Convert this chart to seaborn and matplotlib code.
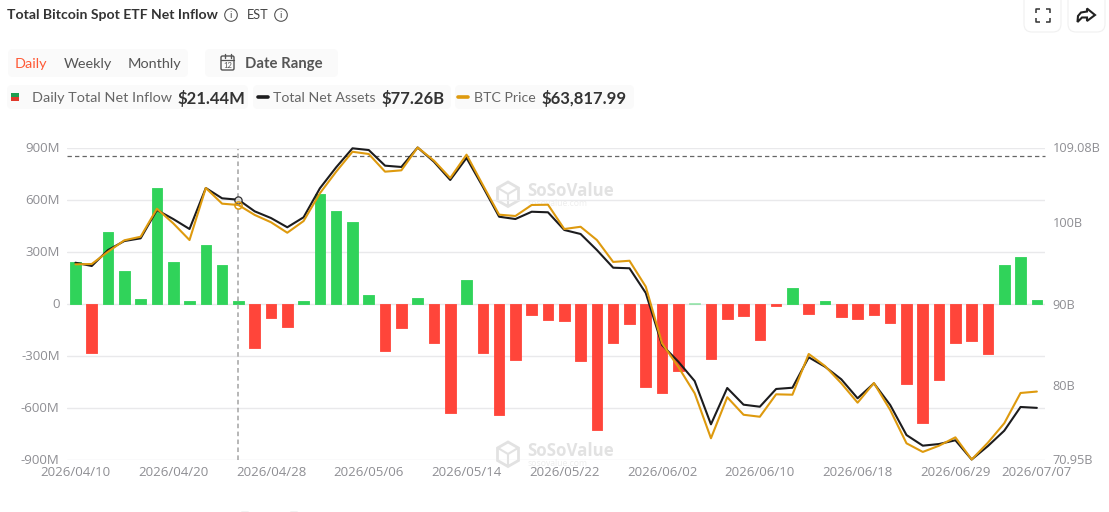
import numpy as np
import pandas as pd
import matplotlib
matplotlib.use("Agg")
import matplotlib.pyplot as plt
from matplotlib.patches import FancyBboxPatch, Polygon, Circle, Rectangle
import seaborn as sns

net_inflow_m = [241, -285, 412, 187, 28, 665, 239, 14, 337, 224, 16, -257, -86, -134, 16, 632, 534, 470, 49, -274,
                -143, 30, -230, -632, 133, -287, -645, -328, -66, -97, -103, -329, -728, -226, -120, -480, -514, -392, 5, -323,
                -88, -72, -210, -14, 88, -59, 12, -78, -88, -65, -111, -464, -692, -440, -226, -219, -290, 222, 268, 21.44]
net_assets_b = [95.00, 94.60, 96.55, 97.65, 97.98, 101.44, 100.34, 99.12, 104.13, 102.87, 102.70, 101.28, 100.46, 99.33, 100.55,
                104.09, 106.66, 108.98, 108.77, 106.86, 106.70, 109.08, 107.34, 105.11, 107.80, 104.29, 100.62, 100.34, 101.23, 101.16,
                99.00, 98.51, 96.55, 94.39, 94.32, 91.30, 84.94, 82.90, 80.54, 75.25, 79.69, 77.65, 77.40, 79.57, 79.72,
                83.44, 82.29, 80.75, 78.43, 80.26, 77.61, 73.94, 72.64, 72.84, 73.30, 70.95, 72.60, 74.47, 77.37, 77.26]
btc_price = [73400, 73425, 74350, 75210, 75480, 77590, 76490, 75230, 79150, 77970, 77870, 77120, 76570, 75780, 76660,
             78750, 80380, 81880, 81710, 80380, 80480, 82200, 81210, 79900, 81660, 79380, 77140, 77040, 77870, 77890,
             76060, 76230, 75230, 73580, 73670, 71720, 67450, 65670, 63690, 60300, 63390, 62070, 61920, 63610, 63580,
             66650, 65740, 64440, 62980, 64460, 62430, 59920, 59270, 59740, 60370, 58700, 59970, 61430, 63710, 63817.99]
tick_days = [0, 6, 12, 18, 24, 30, 36, 42, 48, 54, 59]
tick_dates = ["2026/04/10", "2026/04/20", "2026/04/28", "2026/05/06", "2026/05/14", "2026/05/22",
              "2026/06/02", "2026/06/10", "2026/06/18", "2026/06/29", "2026/07/07"]
inflow_ticks = [-900, -600, -300, 0, 300, 600, 900]
inflow_labels = ["-900M", "-600M", "-300M", "0", "300M", "600M", "900M"]
assets_ticks = [70.95, 80, 90, 100, 109.08]
assets_labels = ["70.95B", "80B", "90B", "100B", "109.08B"]
reference_assets = 107.99
hover_day = 10

W, H = 1109, 512
GREEN, RED, BLACK, ORANGE = "#30D35A", "#FF453A", "#1C1C1E", "#DE9A0E"
GRAY = "#8E8E93"
UI = "Lato"
AX = "Open Sans"

sns.set_theme(style="white")
plt.rcParams["font.family"] = [UI, "DejaVu Sans"]
fig = plt.figure(figsize=(W / 100, H / 100), dpi=100, facecolor="white")

# pixel-space canvas for page furniture
bg = fig.add_axes([0, 0, 1, 1], zorder=-1)
bg.set_xlim(0, W); bg.set_ylim(H, 0); bg.axis("off")

L, R, T, B = 67.3, 1045, 147.5, 459.5
rect = [L / W, 1 - B / H, (R - L) / W, (B - T) / H]
ax = fig.add_axes(rect, zorder=1)
ax.patch.set_alpha(0)

days = np.arange(len(net_inflow_m))
df = pd.DataFrame({"day": days, "inflow": net_inflow_m, "assets": net_assets_b, "btc": btc_price})
df["sign"] = np.where(df["inflow"] >= 0, "in", "out")

ax.set_axisbelow(True)
sns.barplot(data=df, x="day", y="inflow", hue="sign", palette={"in": GREEN, "out": RED}, saturation=1,
            dodge=False, native_scale=True, width=0.65, legend=False, ax=ax, zorder=2)
for p in ax.patches:
    p.set_edgecolor(p.get_facecolor())
    p.set_linewidth(0.6)
    p.set_joinstyle("round")
    if 0 < p.get_height() < 8:
        p.set_alpha(0.35)

ax.set_xlim(-0.5, 59.5)
ax.set_ylim(-900, 900)
ax.set_xticks(tick_days, tick_dates, fontfamily=AX, fontsize=9.5, color=GRAY)
ax.set_yticks(inflow_ticks, inflow_labels, fontfamily=AX, fontsize=9.5, color=GRAY)
ax.tick_params(axis="y", length=0, pad=5.5)
ax.tick_params(axis="x", length=0, pad=5)
ax.grid(axis="y", color="#E9E9EB", lw=1.0)
ax.grid(axis="x", visible=False)
ax.set_xlabel(""); ax.set_ylabel("")
sns.despine(ax=ax, left=True, bottom=True)

ax2 = ax.twinx()
ax2.set_zorder(2); ax2.patch.set_alpha(0)
sns.lineplot(data=df, x="day", y="assets", color=BLACK, lw=1.5, ax=ax2, legend=False, errorbar=None)
ax2.set_ylim(min(net_assets_b), max(net_assets_b))
ax2.set_yticks(assets_ticks, assets_labels, fontfamily=AX, fontsize=9.2, color=GRAY)
ax2.tick_params(axis="y", length=0, pad=5.5)
ax2.set_ylabel(""); ax2.set_xlabel("")
ax2.grid(False)
sns.despine(ax=ax2, left=True, bottom=True, right=True)
ax2.axhline(reference_assets, color="#666666", lw=0.9, ls=(0, (3.5, 2.5)), zorder=1)
ax2.axvline(hover_day, ymax=0.995, color="#A3A3A3", lw=1.1, ls=(0, (3, 2.2)), zorder=1)
ax2.plot([hover_day], [net_assets_b[hover_day]], "o", ms=5.2, mfc="#E8E8E8", mec=BLACK, mew=0.9, zorder=4, alpha=0.9)

ax3 = ax.twinx()
ax3.set_zorder(3); ax3.patch.set_alpha(0)
sns.lineplot(data=df, x="day", y="btc", color=ORANGE, lw=1.5, ax=ax3, legend=False, errorbar=None)
ax3.set_ylim(min(btc_price), max(btc_price))
ax3.set_yticks([]); ax3.set_ylabel(""); ax3.set_xlabel(""); ax3.grid(False)
sns.despine(ax=ax3, left=True, bottom=True, right=True)
ax3.plot([hover_day], [btc_price[hover_day]], "o", ms=5.2, mfc="none", mec=ORANGE, mew=1.1, zorder=4)
for a in (ax2, ax3):
    for ln in a.get_lines():
        ln.set_clip_on(False)

# header
def box(canvas, x0, y0, x1, y1, fc="#FAFAFA", ec="none", r=5):
    canvas.add_patch(FancyBboxPatch((x0 + r, y0 + r), x1 - x0 - 2 * r, y1 - y0 - 2 * r,
                                    boxstyle=f"round,pad={r},rounding_size={r}", fc=fc, ec=ec, lw=0.8))

def label(x, y, s, size=11, color="#555555", weight="normal", family=UI):
    bg.text(x, y, s, fontsize=size, color=color, fontweight=weight, family=family, va="center", ha="left")

def info(x, y):
    bg.add_patch(Circle((x, y), 6.3, fc="none", ec="#555555", lw=0.8))
    bg.text(x, y + 0.3, "i", fontsize=7.5, color="#555555", ha="center", va="center", family=UI)

label(7, 15, "Total Bitcoin Spot ETF Net Inflow", 10.1, "#333333", "bold")
info(231, 15)
label(247, 15, "EST", 9.2, "#444444")
info(281, 15)

box(bg, 1024, -8, 1061, 32, fc="white", ec="#F0F0F0", r=8)
box(bg, 1068, -8, 1105, 32, fc="white", ec="#F0F0F0", r=8)
for sx, sy, xs, ys in [(1036, 9, (0, 0, 4), (4, 0, 0)), (1050, 9, (-4, 0, 0), (0, 0, 4)),
                       (1036, 22, (0, 0, 4), (-4, 0, 0)), (1050, 22, (-4, 0, 0), (0, 0, -4))]:
    bg.plot([sx + v for v in xs], [sy + v for v in ys], color="#333333", lw=1.1, solid_capstyle="butt")
bg.add_patch(Polygon([(1087, 8.5), (1095, 15), (1087, 21), (1087, 17.5), (1082, 17.5), (1077.5, 22),
                      (1078, 16), (1081, 12.5), (1087, 11.5)], closed=True, fc="white", ec="#222222", lw=1.5))

box(bg, 8, 49, 188, 77)
box(bg, 205, 49, 338, 77)
label(15, 64, "Daily", 10.4, "#FF5A36")
label(64, 64, "Weekly", 10.4)
label(128, 64, "Monthly", 10.4)
bg.add_patch(FancyBboxPatch((221, 56), 13, 14, boxstyle="round,pad=0,rounding_size=1.5", fc="none", ec="#555555", lw=1))
bg.plot([221, 234], [60, 60], color="#555555", lw=0.9)
bg.plot([224.5, 224.5], [54, 57.5], color="#555555", lw=1)
bg.plot([230.5, 230.5], [54, 57.5], color="#555555", lw=1)
bg.text(227.5, 65.5, "12", fontsize=5.5, color="#555555", ha="center", va="center", family=UI)
label(245, 64, "Date Range", 10.7, "#555555", "bold")

box(bg, 7, 85, 248, 109)
box(bg, 253, 85, 451, 109)
box(bg, 455, 85, 634, 109)
bg.add_patch(Rectangle((11, 92.7), 8, 4, fc="#1E9E50", ec="none"))
bg.add_patch(Rectangle((11, 96.7), 8, 4.5, fc="#E0392B", ec="none"))
label(31.5, 98.3, "Daily Total Net Inflow", 10.4, "#666666")
label(177, 98.3, "$21.44M", 12, "#333333", "bold")
bg.plot([258, 268], [97, 97], color=BLACK, lw=2.6, solid_capstyle="round")
label(273, 98.3, "Total Net Assets", 10.2, "#666666")
label(382, 98.3, "$77.26B", 12, "#333333", "bold")
bg.plot([458, 468], [97, 97], color=ORANGE, lw=2.6, solid_capstyle="round")
label(473.5, 98.3, "BTC Price", 10.2, "#666666")
label(542, 98.3, "$63,817.99", 12, "#333333", "bold")

# watermarks
def watermark(cy):
    cx = 508
    hexagon = [(cx, cy - 12), (cx + 10.5, cy - 6), (cx + 10.5, cy + 6.5), (cx, cy + 12.5), (cx - 10.5, cy + 6.5), (cx - 10.5, cy - 6)]
    bg.add_patch(Polygon(hexagon, closed=True, fc="none", ec="#E2E2E2", lw=2))
    bg.plot([cx - 10, cx, cx + 10], [cy - 6, cy, cy - 6], color="#E2E2E2", lw=1.5)
    bg.plot([cx, cx], [cy, cy + 12], color="#E2E2E2", lw=1.5)
    bg.text(527, cy - 3, "SoSoValue", fontsize=12.2, color="#E2E2E2", fontweight="bold", va="center", family="Open Sans")
    bg.text(527.5, cy + 9, "sosovalue.com", fontsize=6.2, color="#EEEEEE", va="center", family="Open Sans")

watermark(194)
watermark(454)

# clipped marks at the bottom edge
for x0, x1 in [(241, 248), (290, 297)]:
    bg.plot([x0, x1], [511.5, 511.5], color="#BDBDBD", lw=1)

fig.savefig("out.png", dpi=100, facecolor="white")
